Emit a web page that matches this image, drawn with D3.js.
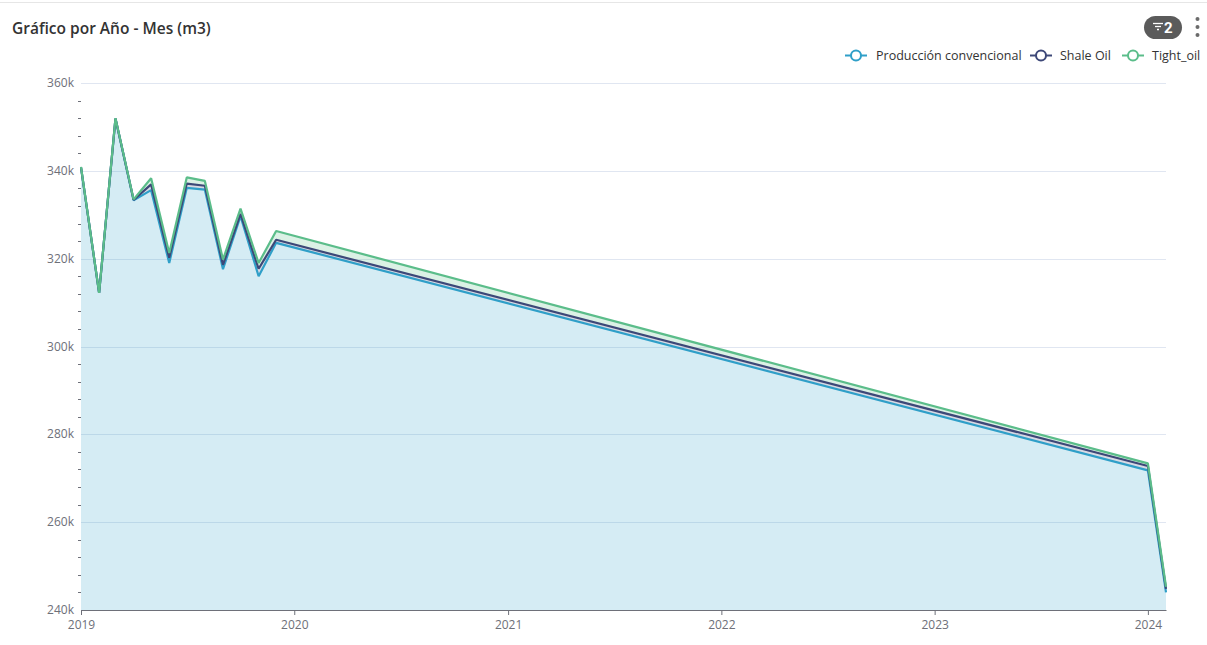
<!DOCTYPE html>
<html>
<head>
<meta charset="utf-8">
<script src="https://cdn.jsdelivr.net/npm/d3@7"></script>
<style>
  html, body { margin: 0; padding: 0; background: #fff; }
  svg { display: block; font-family: "Open Sans", Roboto, sans-serif; }
</style>
</head>
<body>
<svg id="chart" width="1207" height="645"></svg>
<script>
// ---- data ----
const months = ["2019-01","2019-02","2019-03","2019-04","2019-05","2019-06","2019-07","2019-08","2019-09","2019-10","2019-11","2019-12","2024-01","2024-02"];
const seriesNames = ["Producción convencional", "Shale Oil", "Tight_oil"];
const convencional = [340800, 312200, 351900, 333300, 335600, 319000, 336100, 335700, 317600, 329700, 316000, 323600, 271800, 244000];
const shaleOil     = [0, 0, 0, 100, 1300, 1200, 1000, 900, 1000, 500, 1700, 700, 1000, 800];
const tightOil     = [100, 0, 100, 100, 1400, 1100, 1400, 1100, 1200, 1200, 1300, 2000, 600, 500];
const yTicks = [240000, 260000, 280000, 300000, 320000, 340000, 360000];
const xTickYears = ["2019","2020","2021","2022","2023","2024"];
const colors = ["#2f9fc8", "#3d4878", "#5bbd8a"];

// ---- layout ----
const svg = d3.select("#chart");
const W = 1207, H = 645;
const m = { left: 81, right: 41, top: 83, bottom: 35 };
const parseM = d3.timeParse("%Y-%m");
const parseY = d3.timeParse("%Y");

const x = d3.scaleTime()
  .domain([parseM("2019-01"), parseM("2024-02")])
  .range([m.left, W - m.right]);
const y = d3.scaleLinear()
  .domain([240000, 360000])
  .range([H - m.bottom, m.top]);

const table = months.map((mo, i) => ({
  date: parseM(mo),
  [seriesNames[0]]: convencional[i],
  [seriesNames[1]]: shaleOil[i],
  [seriesNames[2]]: tightOil[i]
}));
const stacked = d3.stack().keys(seriesNames)(table);

// top border
svg.append("line").attr("x1", 0).attr("x2", W).attr("y1", 2.5).attr("y2", 2.5)
  .attr("stroke", "#e6e6e6").attr("stroke-width", 1);

// title
svg.append("text").attr("x", 12).attr("y", 34)
  .attr("font-size", 15.5).attr("font-weight", 600).attr("fill", "#333")
  .attr("font-family", "'Open Sans', sans-serif")
  .text("Gráfico por Año - Mes (m3)");

// filter badge
const badge = svg.append("g");
badge.append("rect").attr("x", 1144).attr("y", 16).attr("width", 38).attr("height", 23)
  .attr("rx", 11.5).attr("fill", "#5b5b5b");
[[1153, 1163, 23.5], [1155, 1161, 26.5], [1157, 1159, 29.5]].forEach(([a, b, yy]) => {
  badge.append("line").attr("x1", a).attr("x2", b).attr("y1", yy).attr("y2", yy)
    .attr("stroke", "#fff").attr("stroke-width", 1.3);
});
badge.append("text").attr("x", 1164).attr("y", 33).attr("fill", "#fff")
  .attr("font-size", 15).attr("font-weight", 700).attr("font-family", "Roboto, sans-serif").text("2");
[19, 27, 35].forEach(cy => svg.append("circle").attr("cx", 1197.5).attr("cy", cy).attr("r", 2).attr("fill", "#6b6b6b"));

// gridlines
svg.append("g").selectAll("line").data(yTicks.slice(1)).join("line")
  .attr("x1", m.left).attr("x2", W - m.right)
  .attr("y1", d => Math.round(y(d)) + 0.5).attr("y2", d => Math.round(y(d)) + 0.5)
  .attr("stroke", "#e0e6f1").attr("stroke-width", 1);

// areas
const area = d3.area().x(d => x(d.data.date)).y0(d => y(Math.max(d[0], 240000))).y1(d => y(d[1]));
const area0 = d3.area().x(d => x(d.data.date)).y0(y(240000)).y1(d => y(d[1]));
const fillOp = [0.2, 0.2, 0.22];
stacked.forEach((s, i) => {
  svg.append("path").datum(s)
    .attr("d", i === 0 ? area0 : area)
    .attr("fill", colors[i]).attr("fill-opacity", fillOp[i]);
});

// lines
const line = d3.line().x(d => x(d.data.date)).y(d => y(d[1]));
stacked.forEach((s, i) => {
  svg.append("path").datum(s).attr("d", line)
    .attr("fill", "none").attr("stroke", colors[i]).attr("stroke-width", 2.2)
    .attr("stroke-linejoin", "bevel");
});

// y axis minor ticks
const minor = d3.range(240000, 360001, 4000).filter(v => v % 20000 !== 0);
svg.append("g").selectAll("line").data(minor).join("line")
  .attr("x1", m.left - 3).attr("x2", m.left)
  .attr("y1", d => Math.round(y(d)) + 0.5).attr("y2", d => Math.round(y(d)) + 0.5)
  .attr("stroke", "#6e7079").attr("stroke-width", 1);

// y labels
svg.append("g").selectAll("text").data(yTicks).join("text")
  .attr("x", m.left - 7).attr("y", d => y(d) + 4)
  .attr("text-anchor", "end").attr("font-size", 12).attr("fill", "#6e7079")
  .text(d => d3.format("~s")(d));

// x axis
const xAxis = d3.axisBottom(x)
  .tickValues(xTickYears.map(parseY))
  .tickFormat(d3.timeFormat("%Y"))
  .tickSize(5).tickSizeOuter(0);
const gx = svg.append("g").attr("transform", `translate(0,${H - m.bottom})`).call(xAxis);
gx.select(".domain").attr("stroke", "#6e7079");
gx.selectAll(".tick line").attr("stroke", "#6e7079");
gx.selectAll(".tick text").attr("fill", "#6e7079").attr("font-size", 12)
  .attr("font-family", "'Open Sans', Roboto, sans-serif").attr("dy", "0.9em");

// legend
const legendItems = [
  { name: seriesNames[0], mx: 856, tx: 876 },
  { name: seriesNames[1], mx: 1041, tx: 1060 },
  { name: seriesNames[2], mx: 1133, tx: 1152 }
];
legendItems.forEach((it, i) => {
  const g = svg.append("g");
  g.append("line").attr("x1", it.mx - 11).attr("x2", it.mx + 11).attr("y1", 55.5).attr("y2", 55.5)
    .attr("stroke", colors[i]).attr("stroke-width", 2);
  g.append("circle").attr("cx", it.mx).attr("cy", 55.5).attr("r", 5)
    .attr("fill", "#fff").attr("stroke", colors[i]).attr("stroke-width", 2);
  g.append("text").attr("x", it.tx).attr("y", 60).attr("font-size", 12.5).attr("fill", "#333")
    .text(it.name);
});
</script>
</body>
</html>
